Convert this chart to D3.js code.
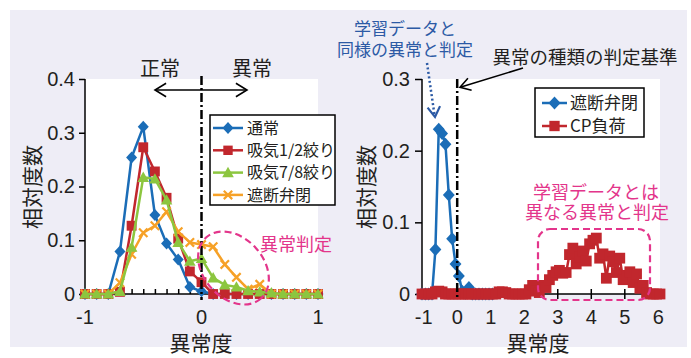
<!DOCTYPE html>
<html><head><meta charset="utf-8">
<script src="https://cdn.jsdelivr.net/npm/d3@7"></script>
<style>
html,body{margin:0;padding:0;background:#fff;}
svg{display:block;}
</style></head>
<body>
<script>
// ---------- DATA ----------
const leftX = [-1.0,-0.9,-0.8,-0.7,-0.6,-0.5,-0.4,-0.3,-0.2,-0.1,0.0,0.1,0.2,0.3,0.4,0.5,0.6,0.7,0.8,0.9,1.0];
const normal   = [0,0,0,0.079,0.254,0.311,0.147,0.094,0.064,0.013,0.005,0,0,0,0,0,0,0,0,0,0];
const intake12 = [0,0,0,0.004,0.127,0.273,0.228,0.179,0.103,0.042,0.022,0,0,0,0,0,0,0,0,0,0];
const intake78 = [0,0,0,0.005,0.087,0.217,0.214,0.175,0.096,0.061,0.066,0.030,0.017,0.013,0.006,0.004,0.002,0,0,0,0];
const valveL   = [0,0,0,0.021,0.074,0.114,0.127,0.153,0.116,0.096,0.092,0.088,0.055,0.031,0.009,0.018,0,0,0,0,0];

const rightX = [-1.05,-0.95,-0.85,-0.75,-0.65,-0.55,-0.45,-0.35,-0.25,-0.15,-0.05,0.05,0.15,0.25,0.35,0.45,0.55,0.65,0.75,0.85,0.95,1.05];
const valveR = [0,0,0,0,0.062,0.230,0.224,0.209,0.138,0.077,0.042,0.025,0.004,0.001,0.009,0,0,0,0,0,0,0];

const cpX = [-1.05,-0.95,-0.85,-0.75,-0.65,-0.55,-0.45,-0.35,-0.25,-0.15,-0.05,0.05,0.15,0.25,0.35,0.45,0.55,0.65,0.75,0.85,0.95,
  1.05,1.15,1.25,1.35,1.45,1.55,1.65,1.75,1.85,1.95,2.05,2.15,2.25,2.35,2.45,2.55,2.65,2.75,2.85,2.95,
  3.05,3.15,3.25,3.35,3.45,3.55,3.65,3.75,3.85,3.95,4.05,4.15,4.25,4.35,4.45,4.55,4.65,4.75,4.85,4.95,
  5.05,5.15,5.25,5.35,5.45,5.55,5.65,5.75,5.85,5.95,6.05];
const cpLoad = [0,0,0,0,0.003,0.004,0.003,0,0,0,0,0,0,0,0,0,0,0,0,0,0,
  0,0,0.003,0.003,0.002,0,0,0,0,0,0,0.006,0.012,0.004,0.002,0.012,0.009,0.020,0.026,0.031,
  0.033,0.029,0.030,0.055,0.064,0.042,0.052,0.060,0.046,0.070,0.075,0.078,0.050,0.056,0.022,0.053,0.045,0.030,0.050,0.020,
  0.026,0.031,0.016,0.028,0.008,0.012,0.002,0,0,0,0];

const leftYTicks = [0,0.1,0.2,0.3,0.4];
const leftYLabels = ["0","0.1","0.2","0.3","0.4"];
const leftXLabelVals = [-1,0,1];
const leftXLabels = ["-1","0","1"];
const rightYTicks = [0,0.1,0.2,0.3];
const rightYLabels = ["0","0.1","0.2","0.3"];
const rightXTicks = [-1,0,1,2,3,4,5,6];
const rightXLabels = ["-1","0","1","2","3","4","5","6"];

const leftLegend = ["通常","吸気1/2絞り","吸気7/8絞り","遮断弁閉"];
const rightLegend = ["遮断弁閉","CP負荷"];

// ---------- STYLE ----------
const C = {blue:"#1b6db7", red:"#c1272d", green:"#8cc63f", orange:"#f6a127",
  pink:"#e3358b", annBlue:"#2c5aa5", text:"#231f20", bg:"#eeedf6"};
const JP = "'Noto Sans CJK JP','Noto Sans',sans-serif";
const NUM = "'Liberation Sans',Arial,sans-serif";

const W=691,H=358;
const svg = d3.select("body").append("svg").attr("width",W).attr("height",H);
svg.append("rect").attr("x",10).attr("y",10).attr("width",677).attr("height",337).attr("fill",C.bg);

function markerPath(type){
  if(type==="diamond") return "M0,-6L5.5,0L0,6L-5.5,0Z";
  if(type==="square") return "M-4.7,-4.7H4.7V4.7H-4.7Z";
  if(type==="triangle") return "M0,-5.8L5.8,4.6H-5.8Z";
  return "M-4.2,-4.2L4.2,4.2M-4.2,4.2L4.2,-4.2";
}
function drawMarker(g,type,color,x,y,scale){
  const p = g.append("path").attr("d",markerPath(type))
    .attr("transform",`translate(${x},${y}) scale(${scale||1})`);
  if(type==="x") p.attr("fill","none").attr("stroke",color).attr("stroke-width",2.2/(scale||1));
  else p.attr("fill",color);
}
function drawSeries(g,xs,ys,x,y,color,type,lw,ms){
  const pts = xs.map((v,i)=>[x(v),y(ys[i])]);
  g.append("path").attr("d",d3.line()(pts)).attr("fill","none")
    .attr("stroke",color).attr("stroke-width",lw).attr("stroke-linejoin","round");
  pts.forEach(p=>drawMarker(g,type,color,p[0],p[1],ms));
}
function arrowHead(g,tip,from,len,color,w){
  const ang = Math.atan2(from[1]-tip[1],from[0]-tip[0]);
  const a1 = ang+0.55, a2 = ang-0.55;
  g.append("path").attr("d",`M${tip[0]+len*Math.cos(a1)},${tip[1]+len*Math.sin(a1)}L${tip[0]},${tip[1]}L${tip[0]+len*Math.cos(a2)},${tip[1]+len*Math.sin(a2)}`)
    .attr("fill","none").attr("stroke",color).attr("stroke-width",w).attr("stroke-linejoin","miter");
}
function twoLines(g,x,y1,y2,lines,size,color,dx2){
  const t = g.append("text").attr("text-anchor","middle").attr("font-family",JP).attr("font-size",size).attr("fill",color);
  t.append("tspan").attr("x",x).attr("y",y1).text(lines[0]);
  t.append("tspan").attr("x",x+(dx2||0)).attr("y",y2).text(lines[1]);
}

// ---------- LEFT CHART ----------
const xL = d3.scaleLinear().domain([-1,1]).range([85,318]);
const yL = d3.scaleLinear().domain([0,0.4]).range([294,79]);
const gl = svg.append("g");
gl.append("rect").attr("x",85).attr("y",79).attr("width",233).attr("height",215).attr("fill","#fff");

const axL = gl.append("g").attr("transform","translate(85,0)")
  .call(d3.axisLeft(yL).tickValues(leftYTicks).tickSize(6).tickFormat((d,i)=>leftYLabels[i]).tickPadding(4));
axL.select(".domain").attr("stroke","#000").attr("stroke-width",1.5).attr("d","M0,79V294");
axL.selectAll(".tick line").attr("stroke","#000").attr("stroke-width",1.5);
axL.selectAll(".tick text").attr("font-family",NUM).attr("font-size",20).attr("fill",C.text);

const axLx = gl.append("g").attr("transform","translate(0,294)")
  .call(d3.axisBottom(xL).tickValues(leftX).tickSize(-5).tickFormat(""));
axLx.select(".domain").attr("stroke","#000").attr("stroke-width",1.5).attr("d","M85,0H318");
axLx.selectAll(".tick line").attr("stroke","#000").attr("stroke-width",1.5);
leftXLabelVals.forEach((v,i)=>{
  gl.append("text").attr("x",xL(v)).attr("y",324).attr("text-anchor","middle")
    .attr("font-family",NUM).attr("font-size",20).attr("fill",C.text).text(leftXLabels[i]);
});

drawSeries(gl,leftX,normal,xL,yL,C.blue,"diamond",2.5,1);
drawSeries(gl,leftX,intake12,xL,yL,C.red,"square",2.5,1.05);
drawSeries(gl,leftX,valveL,xL,yL,C.orange,"x",2.5,1);
drawSeries(gl,leftX,intake78,xL,yL,C.green,"triangle",2.5,1);

gl.append("line").attr("x1",xL(0)).attr("x2",xL(0)).attr("y1",76).attr("y2",300)
  .attr("stroke","#000").attr("stroke-width",2.5).attr("stroke-dasharray","9,3,2,3");

gl.append("ellipse").attr("cx",0).attr("cy",0).attr("rx",41).attr("ry",30)
  .attr("transform","translate(233.5,268) rotate(48)")
  .attr("fill","none").attr("stroke",C.pink).attr("stroke-width",2.2).attr("stroke-dasharray","7,4");
gl.append("text").attr("x",260).attr("y",251).attr("font-family",JP).attr("font-size",18)
  .attr("fill",C.pink).text("異常判定");

gl.append("line").attr("x1",156).attr("x2",246).attr("y1",90).attr("y2",90).attr("stroke","#000").attr("stroke-width",1.6);
arrowHead(gl,[155,90],[170,90],13,"#000",1.6);
arrowHead(gl,[247,90],[230,90],13,"#000",1.6);
gl.append("text").attr("x",160).attr("y",76).attr("text-anchor","middle").attr("font-family",JP).attr("font-size",20).attr("fill",C.text).text("正常");
gl.append("text").attr("x",252).attr("y",76).attr("text-anchor","middle").attr("font-family",JP).attr("font-size",20).attr("fill",C.text).text("異常");

gl.append("text").attr("x",201).attr("y",351).attr("text-anchor","middle").attr("font-family",JP).attr("font-size",21).attr("fill",C.text).text("異常度");
gl.append("text").attr("transform","translate(40,187) rotate(-90)").attr("text-anchor","middle").attr("font-family",JP).attr("font-size",21).attr("fill",C.text).text("相対度数");

const lgL = gl.append("g");
lgL.append("rect").attr("x",210).attr("y",115).attr("width",125).attr("height",90).attr("fill","#fff").attr("stroke","#000").attr("stroke-width",1.5);
const lgTypes = [["diamond",C.blue],["square",C.red],["triangle",C.green],["x",C.orange]];
leftLegend.forEach((t,i)=>{
  const yy = 128 + i*22.3;
  lgL.append("line").attr("x1",213).attr("x2",243).attr("y1",yy).attr("y2",yy).attr("stroke",lgTypes[i][1]).attr("stroke-width",2.5);
  drawMarker(lgL,lgTypes[i][0],lgTypes[i][1],228,yy,1);
  lgL.append("text").attr("x",247).attr("y",yy).attr("dy","0.36em").attr("font-family",JP).attr("font-size",16).attr("fill",C.text).text(t);
});

// ---------- RIGHT CHART ----------
const xR = d3.scaleLinear().domain([-1.05,6.05]).range([422,660]);
const yR = d3.scaleLinear().domain([0,0.3]).range([294,79]);
const gr = svg.append("g");
gr.append("rect").attr("x",422).attr("y",79).attr("width",238).attr("height",215).attr("fill","#fff");

const axR = gr.append("g").attr("transform","translate(422,0)")
  .call(d3.axisLeft(yR).tickValues(rightYTicks).tickSize(7).tickFormat((d,i)=>rightYLabels[i]).tickPadding(5));
axR.select(".domain").attr("stroke","#000").attr("stroke-width",1.5).attr("d","M0,79V294");
axR.selectAll(".tick line").attr("stroke","#000").attr("stroke-width",1.5);
axR.selectAll(".tick text").attr("font-family",NUM).attr("font-size",20).attr("fill",C.text);

const axRx = gr.append("g").attr("transform","translate(0,294)")
  .call(d3.axisBottom(xR).tickValues(rightXTicks).tickSize(0).tickFormat(""));
axRx.select(".domain").attr("stroke","#000").attr("stroke-width",1.5).attr("d","M422,0H660");
rightXTicks.forEach((v,i)=>{
  gr.append("line").attr("x1",xR(v)).attr("x2",xR(v)).attr("y1",289).attr("y2",299).attr("stroke","#000").attr("stroke-width",1.5);
  gr.append("text").attr("x",xR(v)).attr("y",324).attr("text-anchor","middle")
    .attr("font-family",NUM).attr("font-size",20).attr("fill",C.text).text(rightXLabels[i]);
});

drawSeries(gr,rightX,valveR,xR,yR,C.blue,"diamond",2.5,1.08);
drawSeries(gr,cpX,cpLoad,xR,yR,C.red,"square",2.5,1.15);

gr.append("line").attr("x1",xR(0)).attr("x2",xR(0)).attr("y1",79).attr("y2",300)
  .attr("stroke","#000").attr("stroke-width",2.5).attr("stroke-dasharray","9,3,2,3");

gr.append("rect").attr("x",538).attr("y",229).attr("width",112).attr("height",71).attr("rx",12)
  .attr("fill","none").attr("stroke",C.pink).attr("stroke-width",2.2).attr("stroke-dasharray","7,4");
twoLines(gr,596,199,219,["学習データとは","異なる異常と判定"],18,C.pink,1);

twoLines(gr,405,35,56,["学習データと","同様の異常と判定"],17,C.annBlue,0);
gr.append("line").attr("x1",427).attr("y1",63).attr("x2",434.5).attr("y2",115)
  .attr("stroke",C.annBlue).attr("stroke-width",2.5).attr("stroke-dasharray","2,2.5");
arrowHead(gr,[435,117],[433.6,105],12,C.annBlue,2.2);

gr.append("text").attr("x",585).attr("y",64).attr("text-anchor","middle").attr("font-family",JP).attr("font-size",18.5).attr("fill",C.text).text("異常の種類の判定基準");
gr.append("line").attr("x1",523).attr("y1",68).attr("x2",461).attr("y2",87).attr("stroke","#000").attr("stroke-width",1.6);
arrowHead(gr,[460,87.3],[475,82.7],12,"#000",1.6);

gr.append("text").attr("x",538).attr("y",351).attr("text-anchor","middle").attr("font-family",JP).attr("font-size",21).attr("fill",C.text).text("異常度");
gr.append("text").attr("transform","translate(374,187) rotate(-90)").attr("text-anchor","middle").attr("font-family",JP).attr("font-size",21).attr("fill",C.text).text("相対度数");

const lgR = gr.append("g");
lgR.append("rect").attr("x",535).attr("y",88).attr("width",109).attr("height",49).attr("fill","#fff").attr("stroke","#000").attr("stroke-width",1.5);
const lgRT = [["diamond",C.blue],["square",C.red]];
rightLegend.forEach((t,i)=>{
  const yy = 103 + i*23;
  lgR.append("line").attr("x1",542).attr("x2",567).attr("y1",yy).attr("y2",yy).attr("stroke",lgRT[i][1]).attr("stroke-width",2.5);
  drawMarker(lgR,lgRT[i][0],lgRT[i][1],554.5,yy,1.1);
  lgR.append("text").attr("x",570).attr("y",yy).attr("dy","0.36em").attr("font-family",JP).attr("font-size",17).attr("fill",C.text).text(t);
});
</script>
</body></html>
